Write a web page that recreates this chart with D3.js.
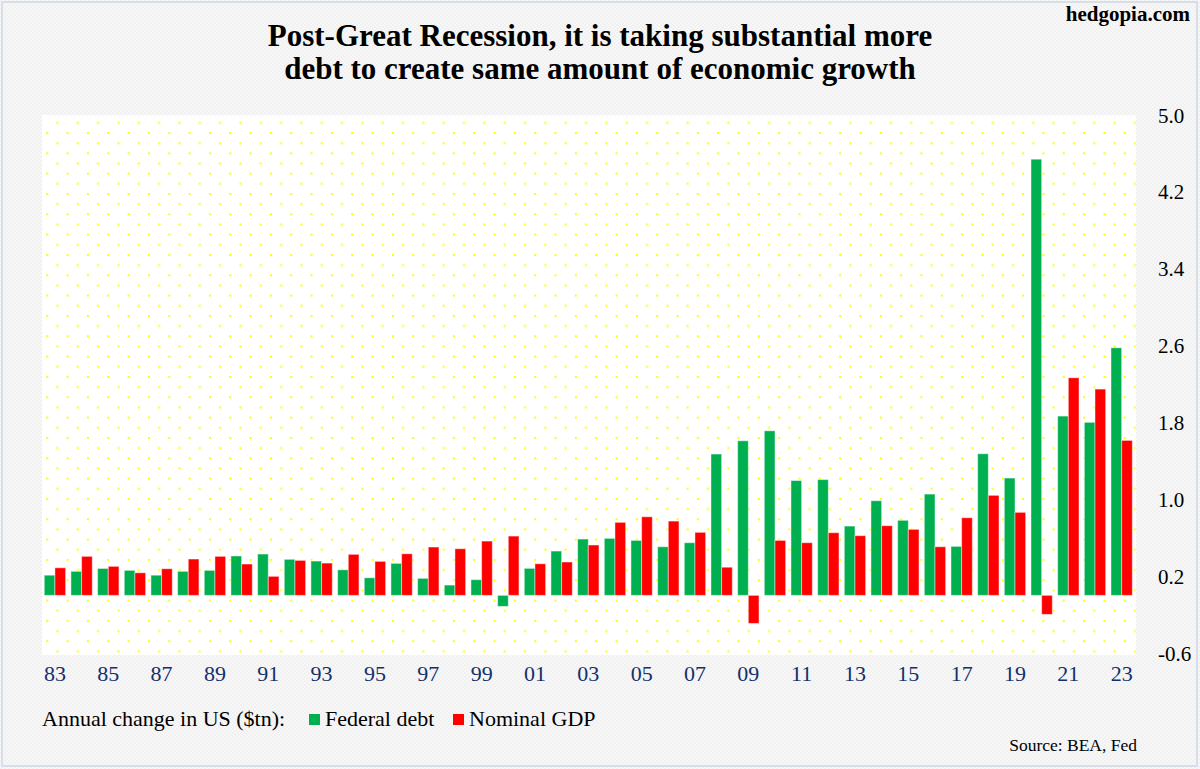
<!DOCTYPE html>
<html>
<head>
<meta charset="utf-8">
<script src="https://cdn.jsdelivr.net/npm/d3@7"></script>
<style>
  html, body { margin: 0; padding: 0; background: #ffffff; }
  svg { display: block; }
</style>
</head>
<body>
<svg id="chart" width="1200" height="769"></svg>
<script>
// ---- Data (annual change in US, $tn) ----
const years = d3.range(1983, 2024);
const federalDebt = [
  0.21, 0.25, 0.28, 0.26, 0.21, 0.25, 0.26, 0.41, 0.43, 0.375,
  0.357, 0.266, 0.183, 0.333, 0.177, 0.107, 0.163, -0.115, 0.281, 0.461,
  0.586, 0.593, 0.572, 0.506, 0.548, 1.471, 1.609, 1.713, 1.195, 1.205,
  0.721, 0.985, 0.781, 1.054, 0.510, 1.474, 1.221, 4.540, 1.866, 1.801,
  2.577
];
const nominalGDP = [
  0.287, 0.406, 0.302, 0.235, 0.277, 0.378, 0.406, 0.326, 0.198, 0.364,
  0.336, 0.427, 0.354, 0.433, 0.503, 0.485, 0.565, 0.617, 0.329, 0.347,
  0.524, 0.760, 0.818, 0.773, 0.656, 0.293, -0.292, 0.572, 0.548, 0.652,
  0.621, 0.725, 0.687, 0.506, 0.808, 1.041, 0.864, -0.198, 2.265, 2.147,
  1.613
];
const seriesNames = ["Federal debt", "Nominal GDP"];
const seriesColors = ["#00b050", "#ff0000"];
const yTicks = [-0.6, 0.2, 1.0, 1.8, 2.6, 3.4, 4.2, 5.0];
const titleLines = [
  "Post-Great Recession, it is taking substantial more",
  "debt to create same amount of economic growth"
];

const svg = d3.select("#chart");
const W = 1200, H = 769;
const plot = { left: 42, right: 1136, top: 115, bottom: 655 };

// ---- defs: background texture & dotted plot pattern ----
const defs = svg.append("defs");
const bgPat = defs.append("pattern").attr("id", "bgtex")
  .attr("patternUnits", "userSpaceOnUse").attr("width", 4).attr("height", 4);
bgPat.append("rect").attr("width", 4).attr("height", 4).attr("fill", "#f7f7f7");
bgPat.append("rect").attr("width", 2).attr("height", 2).attr("fill", "#f1f1f1");
bgPat.append("rect").attr("x", 2).attr("y", 2).attr("width", 2).attr("height", 2).attr("fill", "#f1f1f1");

const dotStep = 20.33;
const dotPat = defs.append("pattern").attr("id", "dots")
  .attr("patternUnits", "userSpaceOnUse")
  .attr("x", 5.64).attr("y", 10.0)
  .attr("width", dotStep).attr("height", dotStep);
dotPat.append("rect").attr("width", dotStep).attr("height", dotStep).attr("fill", "#ffffff");
dotPat.append("rect").attr("x", 0).attr("y", 0).attr("width", 2).attr("height", 2).attr("fill", "#ffff00");
dotPat.append("rect").attr("x", dotStep / 2).attr("y", dotStep / 2).attr("width", 2).attr("height", 2).attr("fill", "#ffff00");

// ---- background ----
svg.append("rect").attr("x", 0).attr("y", 0).attr("width", W).attr("height", H).attr("fill", "url(#bgtex)");
svg.append("rect").attr("x", 2).attr("y", 2).attr("width", W - 5).attr("height", H - 5)
  .attr("fill", "none").attr("stroke", "#d8dee8").attr("stroke-width", 2);

svg.append("rect")
  .attr("x", plot.left).attr("y", plot.top)
  .attr("width", plot.right - plot.left).attr("height", plot.bottom - plot.top)
  .attr("fill", "url(#dots)");

// ---- scales ----
const x = d3.scaleBand().domain(years).range([41.6, 1135])
  .paddingInner(0.2).paddingOuter(0.1);
const xs = d3.scaleBand().domain(seriesNames).range([0, x.bandwidth()]).padding(0);
const y = d3.scaleLinear().domain([-0.6, 5.0]).range([653, 115]);

// ---- bars ----
const rows = years.map((yr, i) => ({
  year: yr,
  values: [
    { name: seriesNames[0], value: federalDebt[i], color: seriesColors[0] },
    { name: seriesNames[1], value: nominalGDP[i], color: seriesColors[1] }
  ]
}));

const groups = svg.append("g").selectAll("g").data(rows).join("g")
  .attr("transform", d => `translate(${x(d.year)},0)`);
groups.selectAll("rect").data(d => d.values).join("rect")
  .attr("x", d => xs(d.name))
  .attr("width", xs.bandwidth())
  .attr("y", d => y(Math.max(0, d.value)))
  .attr("height", d => Math.abs(y(d.value) - y(0)))
  .attr("fill", d => d.color)
  .attr("stroke", "rgba(255,255,255,0.45)")
  .attr("stroke-width", 1);

// ---- y axis (right) ----
const yAxis = svg.append("g")
  .attr("transform", `translate(1152,0)`)
  .call(d3.axisRight(y).tickValues(yTicks).tickSize(0).tickPadding(6)
    .tickFormat(d => d.toFixed(1)));
yAxis.select(".domain").remove();
yAxis.selectAll("text")
  .attr("font-family", "'Liberation Serif', 'Times New Roman', serif")
  .attr("font-size", 21).attr("fill", "#000").attr("dy", "0.34em");

// ---- x axis ----
const xAxis = svg.append("g")
  .attr("transform", `translate(0,660)`)
  .call(d3.axisBottom(x).tickValues(years.filter(d => (d - 1983) % 2 === 0))
    .tickSize(0).tickPadding(0)
    .tickFormat(d => String(d).slice(2)));
xAxis.select(".domain").remove();
xAxis.selectAll("text")
  .attr("font-family", "'Liberation Serif', 'Times New Roman', serif")
  .attr("font-size", 22).attr("fill", "#13306b").attr("dy", "0.95em");

// ---- title ----
const title = svg.append("g")
  .attr("font-family", "'Liberation Serif', 'Times New Roman', serif")
  .attr("font-weight", "bold").attr("text-anchor", "middle").attr("fill", "#000");
title.selectAll("text").data(titleLines).join("text")
  .attr("x", 600).attr("y", (d, i) => 46 + i * 33)
  .attr("font-size", 31)
  .text(d => d);

svg.append("text")
  .attr("x", 1190).attr("y", 21).attr("text-anchor", "end")
  .attr("font-family", "'Liberation Serif', 'Times New Roman', serif")
  .attr("font-weight", "bold").attr("font-size", 21).attr("fill", "#000")
  .text("hedgopia.com");

// ---- legend ----
const lg = svg.append("g")
  .attr("font-family", "'Liberation Serif', 'Times New Roman', serif")
  .attr("font-size", 22).attr("fill", "#000");
lg.append("text").attr("x", 42).attr("y", 726).text("Annual change in US ($tn):");
const legendX = [309, 453];
seriesNames.forEach((name, i) => {
  lg.append("rect").attr("x", legendX[i]).attr("y", 714).attr("width", 11).attr("height", 11)
    .attr("fill", seriesColors[i]);
  lg.append("text").attr("x", legendX[i] + 16).attr("y", 726).text(name);
});

// ---- source ----
svg.append("text")
  .attr("x", 1137).attr("y", 751).attr("text-anchor", "end")
  .attr("font-family", "'Liberation Serif', 'Times New Roman', serif")
  .attr("font-size", 17.5).attr("fill", "#000")
  .text("Source: BEA, Fed");
</script>
</body>
</html>
